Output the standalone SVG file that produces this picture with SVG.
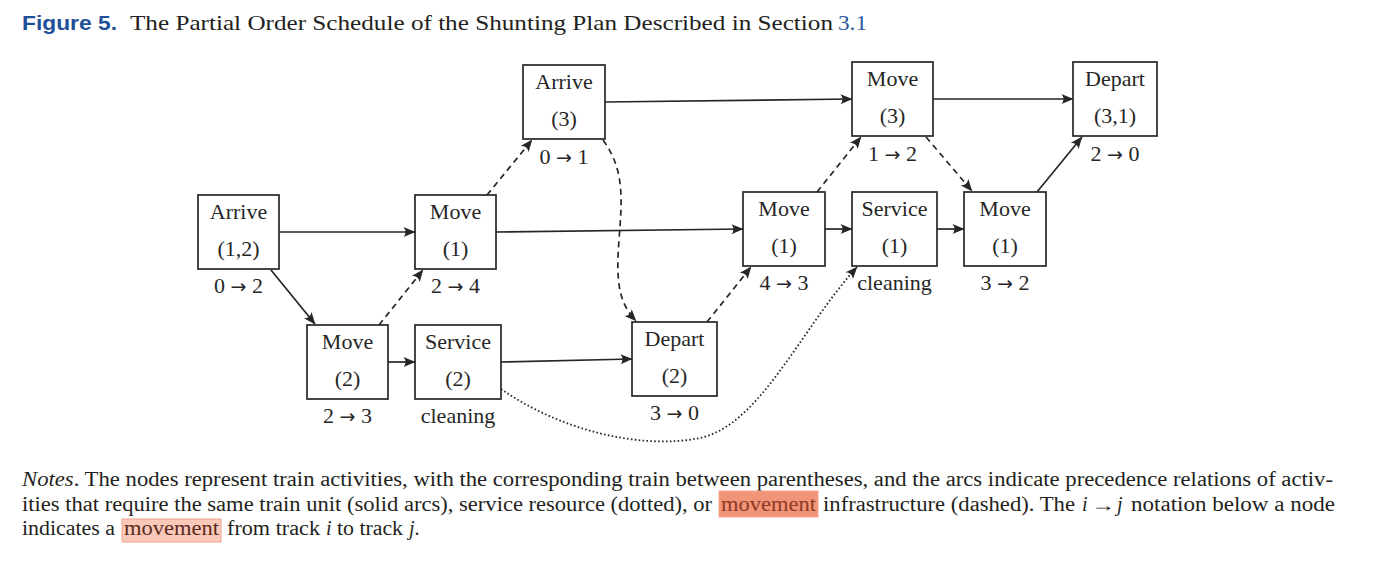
<svg xmlns="http://www.w3.org/2000/svg" width="1380" height="575" viewBox="0 0 1380 575">
<style>
.bg{fill:#ffffff}
.box{fill:#ffffff;stroke:#262626;stroke-width:1.7}
.t{font-family:"Liberation Serif","Times New Roman",serif;font-size:22px;fill:#262626;text-anchor:middle}
.ar{font-family:"DejaVu Sans",sans-serif;font-size:19px;font-weight:normal}
.e{fill:none;stroke:#262626;stroke-width:1.7}
.dash{stroke-dasharray:6 4.5}
.dot{stroke-width:1.8;stroke-dasharray:1.6 2.3}
.serif{font-family:"Liberation Serif","Times New Roman",serif;fill:#231f20}
.note{font-size:20px}
.it{font-style:italic}
</style>
<defs>
<marker id="ah" viewBox="-12 -6 13 12" refX="0" refY="0" markerWidth="13" markerHeight="12" markerUnits="userSpaceOnUse" orient="auto">
<path d="M0.5,0 L-11.5,-5 Q-7.5,0 -11.5,5 Z" fill="#262626"/>
</marker>
</defs>
<rect class="bg" x="0" y="0" width="1380" height="575"/>

<g id="title">
<text x="22" y="30" font-family="Liberation Sans,Arial,sans-serif" font-weight="bold" font-size="21" fill="#1f4f96" textLength="95" lengthAdjust="spacingAndGlyphs">Figure 5.</text>
<text class="serif" x="130" y="30" font-size="22" textLength="703" lengthAdjust="spacingAndGlyphs">The Partial Order Schedule of the Shunting Plan Described in Section</text>
<text class="serif" x="838" y="30" font-size="22" style="fill:#2b57a0" textLength="29" lengthAdjust="spacingAndGlyphs">3.1</text>
</g>

<g id="connectors">
<path class="e" d="M279,232 L415,232" marker-end="url(#ah)"/>
<path class="e" d="M271,270 L315,324" marker-end="url(#ah)"/>
<path class="e" d="M388,362 L415,362" marker-end="url(#ah)"/>
<path class="e" d="M501,362 L632,359" marker-end="url(#ah)"/>
<path class="e" d="M496,232 L743,229" marker-end="url(#ah)"/>
<path class="e" d="M825,229 L852,229" marker-end="url(#ah)"/>
<path class="e" d="M937,229 L964,229" marker-end="url(#ah)"/>
<path class="e" d="M1037,192 L1082,137" marker-end="url(#ah)"/>
<path class="e" d="M605,102 L852,99" marker-end="url(#ah)"/>
<path class="e" d="M933,99 L1073,99" marker-end="url(#ah)"/>
<path class="e dash" d="M379,325 L423,270" marker-end="url(#ah)"/>
<path class="e dash" d="M487,195 L532,140" marker-end="url(#ah)"/>
<path class="e dash" d="M603,140 C625,170 622,200 619,240 C616,280 618,302 636,321" marker-end="url(#ah)"/>
<path class="e dash" d="M707,322 L751,267" marker-end="url(#ah)"/>
<path class="e dash" d="M817,192 L861,137" marker-end="url(#ah)"/>
<path class="e dash" d="M926,137 L972,191" marker-end="url(#ah)"/>
<path class="e dot" d="M501,389 C560,430 640,450 700,438 C760,425 800,330 857,267" marker-end="url(#ah)"/>
</g>

<g id="arrive12">
<rect class="box" x="198" y="195" width="81" height="74"/>
<text class="t" x="238.5" y="219">Arrive</text>
<text class="t" x="238.5" y="256">(1,2)</text>
<text class="t" x="238.5" y="293">0 <tspan class="ar">→</tspan> 2</text>
</g>
<g id="move1a">
<rect class="box" x="415" y="195" width="81" height="74"/>
<text class="t" x="455.5" y="219">Move</text>
<text class="t" x="455.5" y="256">(1)</text>
<text class="t" x="455.5" y="293">2 <tspan class="ar">→</tspan> 4</text>
</g>
<g id="move2">
<rect class="box" x="307" y="325" width="81" height="74"/>
<text class="t" x="347.5" y="349">Move</text>
<text class="t" x="347.5" y="386">(2)</text>
<text class="t" x="347.5" y="423">2 <tspan class="ar">→</tspan> 3</text>
</g>
<g id="service2">
<rect class="box" x="415" y="325" width="86" height="74"/>
<text class="t" x="458" y="349">Service</text>
<text class="t" x="458" y="386">(2)</text>
<text class="t" x="458" y="423">cleaning</text>
</g>
<g id="arrive3">
<rect class="box" x="523" y="65" width="82" height="74"/>
<text class="t" x="564" y="89">Arrive</text>
<text class="t" x="564" y="126">(3)</text>
<text class="t" x="564" y="164">0 <tspan class="ar">→</tspan> 1</text>
</g>
<g id="depart2">
<rect class="box" x="632" y="322" width="85" height="74"/>
<text class="t" x="674.5" y="346">Depart</text>
<text class="t" x="674.5" y="383">(2)</text>
<text class="t" x="674.5" y="420">3 <tspan class="ar">→</tspan> 0</text>
</g>
<g id="move1b">
<rect class="box" x="743" y="192" width="82" height="74"/>
<text class="t" x="784" y="216">Move</text>
<text class="t" x="784" y="253">(1)</text>
<text class="t" x="784" y="290">4 <tspan class="ar">→</tspan> 3</text>
</g>
<g id="service1">
<rect class="box" x="852" y="192" width="85" height="74"/>
<text class="t" x="894.5" y="216">Service</text>
<text class="t" x="894.5" y="253">(1)</text>
<text class="t" x="894.5" y="290">cleaning</text>
</g>
<g id="move1c">
<rect class="box" x="964" y="192" width="82" height="74"/>
<text class="t" x="1005" y="216">Move</text>
<text class="t" x="1005" y="253">(1)</text>
<text class="t" x="1005" y="290">3 <tspan class="ar">→</tspan> 2</text>
</g>
<g id="move3">
<rect class="box" x="852" y="62" width="81" height="74"/>
<text class="t" x="892.5" y="86">Move</text>
<text class="t" x="892.5" y="123">(3)</text>
<text class="t" x="892.5" y="161">1 <tspan class="ar">→</tspan> 2</text>
</g>
<g id="depart31">
<rect class="box" x="1073" y="62" width="84" height="74"/>
<text class="t" x="1115" y="86">Depart</text>
<text class="t" x="1115" y="123">(3,1)</text>
<text class="t" x="1115" y="161">2 <tspan class="ar">→</tspan> 0</text>
</g>

<g id="notes">
<text class="serif note" x="22" y="486" textLength="1311" lengthAdjust="spacingAndGlyphs"><tspan class="it">Notes</tspan>.  The nodes represent train activities, with the corresponding train between parentheses, and the arcs indicate precedence relations of activ-</text>
<text class="serif note" x="22" y="511" textLength="690" lengthAdjust="spacingAndGlyphs">ities that require the same train unit (solid arcs), service resource (dotted), or</text>
<rect x="719" y="491" width="99" height="26" fill="#f19477" stroke="#f4a890" stroke-width="1"/>
<text class="serif note" x="721" y="511" textLength="95" lengthAdjust="spacingAndGlyphs" style="fill:#8e3a24">movement</text>
<text class="serif note" x="823" y="511" textLength="252" lengthAdjust="spacingAndGlyphs">infrastructure (dashed). The</text>
<text class="serif note it" x="1082" y="511">i</text>
<text class="serif note ar" x="1091" y="511" style="font-size:18px" textLength="24" lengthAdjust="spacingAndGlyphs">→</text>
<text class="serif note it" x="1117" y="511">j</text>
<text class="serif note" x="1131" y="511" textLength="204" lengthAdjust="spacingAndGlyphs">notation below a node</text>
<text class="serif note" x="22" y="535" textLength="93" lengthAdjust="spacingAndGlyphs">indicates a</text>
<rect x="122" y="519" width="99" height="23" fill="#f9c8b8" stroke="#f0a48e" stroke-width="1"/>
<text class="serif note" x="124" y="535" textLength="95" lengthAdjust="spacingAndGlyphs" style="fill:#5a2a20">movement</text>
<text class="serif note" x="227" y="535" textLength="93" lengthAdjust="spacingAndGlyphs">from track</text>
<text class="serif note it" x="326" y="535">i</text>
<text class="serif note" x="337" y="535" textLength="66" lengthAdjust="spacingAndGlyphs">to track</text>
<text class="serif note" x="409" y="535"><tspan class="it">j</tspan>.</text>
</g>
</svg>
